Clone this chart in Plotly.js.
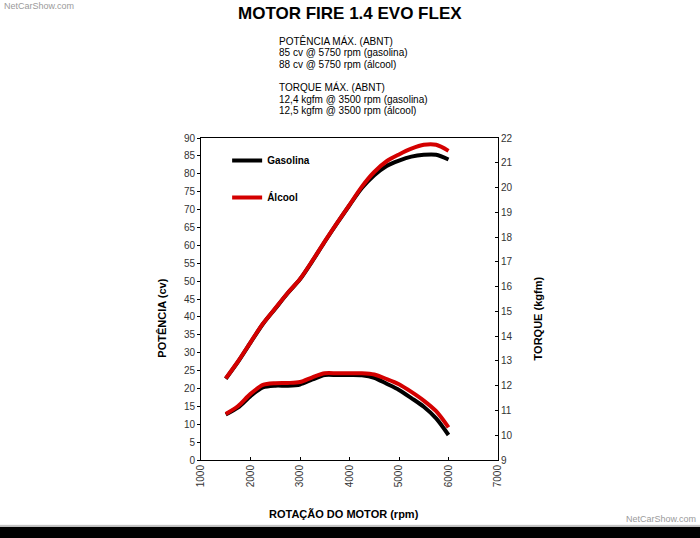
<!DOCTYPE html>
<html>
<head>
<meta charset="utf-8">
<script src="https://cdn.plot.ly/plotly-3.0.1.min.js"></script>
<style>
  html, body { margin: 0; padding: 0; background: #fff; }
  #chart { width: 700px; height: 538px; }
</style>
</head>
<body>
<div id="chart"></div>
<script>
// rotação (rpm)
const rpm = [1500, 1750, 2000, 2250, 2500, 2750, 3000, 3250, 3500, 3750,
             4000, 4250, 4500, 4750, 5000, 5250, 5500, 5750, 6000];

// potência (cv)
const potGasolina = [22.7, 27.5, 32.8, 38.0, 42.3, 46.6, 50.5, 55.6, 61.0, 66.2,
                     71.2, 76.0, 79.6, 82.2, 83.7, 84.8, 85.3, 85.3, 84.0];
const potAlcool   = [22.8, 27.6, 32.9, 38.1, 42.4, 46.7, 50.6, 55.7, 61.1, 66.3,
                     71.3, 76.4, 80.5, 83.5, 85.4, 87.0, 88.1, 88.1, 86.4];

// torque (kgfm)
const torGasolina = [10.84, 11.12, 11.58, 11.93, 12.00, 12.00, 12.05, 12.25, 12.43, 12.43,
                     12.43, 12.42, 12.32, 12.08, 11.83, 11.50, 11.15, 10.68, 10.01];
const torAlcool   = [10.86, 11.18, 11.67, 12.03, 12.10, 12.11, 12.15, 12.34, 12.50, 12.50,
                     12.50, 12.50, 12.45, 12.27, 12.06, 11.75, 11.40, 10.97, 10.32];

const infoLinhas = [
    'POTÊNCIA MÁX. (ABNT)',
    '85 cv @ 5750 rpm (gasolina)',
    '88 cv @ 5750 rpm (álcool)',
    'TORQUE MÁX. (ABNT)',
    '12,4 kgfm @ 3500 rpm (gasolina)',
    '12,5 kgfm @ 3500 rpm (álcool)'
];
const infoY = [1.301, 1.264, 1.227, 1.158, 1.121, 1.084];

const FONTE = 'Liberation Sans, Arial, sans-serif';
const PRETO = '#000000';
const VERMELHO = '#d40000';

function serie(y, nome, cor, eixo, legenda) {
    return {
        type: 'scatter',
        mode: 'lines',
        x: rpm,
        y: y,
        name: nome,
        legendgroup: nome,
        showlegend: legenda,
        yaxis: eixo,
        line: { color: cor, width: 4, shape: 'spline', smoothing: 0.8 },
        hoverinfo: 'skip'
    };
}

const traces = [
    serie(potGasolina, 'Gasolina', PRETO, 'y', true),
    serie(torGasolina, 'Gasolina', PRETO, 'y2', false),
    serie(potAlcool, 'Álcool', VERMELHO, 'y', true),
    serie(torAlcool, 'Álcool', VERMELHO, 'y2', false)
];

const tickFont = { family: FONTE, size: 10, color: '#333' };
const tituloFont = { family: FONTE, size: 11, color: '#000', weight: 'bold' };

// bloco de texto com as especificações
const infoAnotacoes = infoLinhas.map((t, i) => ({
    xref: 'paper', yref: 'paper', x: 0.256, y: infoY[i],
    xanchor: 'left', yanchor: 'middle', align: 'left',
    text: t, showarrow: false,
    font: { family: FONTE, size: 10, color: '#000' }
}));

const layout = {
    width: 700,
    height: 538,
    margin: { l: 201, r: 202, t: 138, b: 78 },
    paper_bgcolor: '#fff',
    plot_bgcolor: '#fff',
    font: { family: FONTE },
    showlegend: true,
    legend: {
        x: 0.088, y: 0.975, xanchor: 'left', yanchor: 'top',
        bgcolor: 'rgba(0,0,0,0)',
        font: { family: FONTE, size: 10, color: '#000', weight: 'bold' },
        tracegroupgap: 18,
        itemwidth: 30
    },
    xaxis: {
        range: [1000, 7000],
        dtick: 1000,
        tickangle: -90,
        ticks: 'inside', ticklen: 3, tickcolor: '#000',
        showline: true, linecolor: '#000', linewidth: 1,
        mirror: true,
        showgrid: false, zeroline: false,
        tickfont: tickFont
    },
    yaxis: {
        range: [0, 90],
        dtick: 5,
        ticks: 'outside', ticklen: 3, tickcolor: '#000',
        showline: true, linecolor: '#000', linewidth: 1,
        showgrid: false, zeroline: false,
        tickfont: tickFont
    },
    yaxis2: {
        range: [9, 22],
        dtick: 1,
        overlaying: 'y',
        side: 'right',
        ticks: 'inside', ticklen: 3, tickcolor: '#000',
        showline: true, linecolor: '#000', linewidth: 1,
        showgrid: false, zeroline: false,
        tickfont: tickFont
    },
    annotations: [
        {
            xref: 'paper', yref: 'paper', x: 0.5, y: 1.386,
            xanchor: 'center', yanchor: 'middle',
            text: 'MOTOR FIRE 1.4 EVO FLEX', showarrow: false,
            font: { family: FONTE, size: 17, color: '#000', weight: 'bold' }
        },
        ...infoAnotacoes,
        {
            xref: 'paper', yref: 'paper', x: -0.13, y: 0.44,
            xanchor: 'center', yanchor: 'middle', textangle: -90,
            text: 'POTÊNCIA (cv)', showarrow: false, font: tituloFont
        },
        {
            xref: 'paper', yref: 'paper', x: 1.135, y: 0.44,
            xanchor: 'center', yanchor: 'middle', textangle: -90,
            text: 'TORQUE (kgfm)', showarrow: false, font: tituloFont
        },
        {
            xref: 'paper', yref: 'paper', x: 0.48, y: -0.168,
            xanchor: 'center', yanchor: 'middle',
            text: 'ROTAÇÃO DO MOTOR (rpm)', showarrow: false, font: tituloFont
        },
        {
            xref: 'paper', yref: 'paper', x: -0.67, y: 1.41,
            xanchor: 'left', yanchor: 'middle',
            text: 'NetCarShow.com', showarrow: false,
            font: { family: FONTE, size: 9, color: '#9a9a9a' }
        },
        {
            xref: 'paper', yref: 'paper', x: 1.675, y: -0.183,
            xanchor: 'right', yanchor: 'middle',
            text: 'NetCarShow.com', showarrow: false,
            font: { family: FONTE, size: 9, color: '#9a9a9a' }
        }
    ],
    shapes: [
        {
            type: 'rect', xref: 'paper', yref: 'paper',
            x0: -0.7, x1: 1.7, y0: -0.207, y1: -0.26,
            fillcolor: '#000', line: { width: 0 }
        },
        {
            type: 'line', xref: 'paper', yref: 'paper',
            x0: -0.7, x1: 1.7, y0: -0.203, y1: -0.203,
            line: { color: '#bbb', width: 1 }
        }
    ]
};

Plotly.newPlot('chart', traces, layout, { displayModeBar: false, staticPlot: true });
</script>
</body>
</html>
